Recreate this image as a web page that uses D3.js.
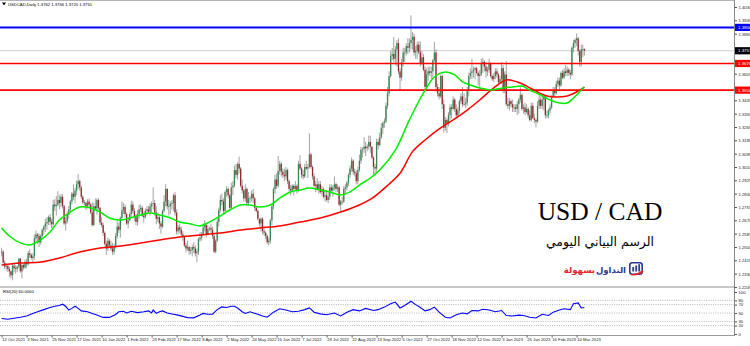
<!DOCTYPE html>
<html><head><meta charset="utf-8">
<script src="https://cdn.jsdelivr.net/npm/d3@7"></script>
<style>html,body{margin:0;padding:0;background:#fff;overflow:hidden}svg{display:block}</style>
</head><body><svg id="c" width="750" height="346"></svg>
<script>
// ---------- DATA ----------
const symbolTitle = "USDCAD,Daily";
const headerValues = ["1.3762", "1.3766", "1.3720", "1.3751"];
const dateLabels = ["12 Oct 2021","3 Nov 2021","25 Nov 2021","17 Dec 2021","10 Jan 2022","1 Feb 2022","23 Feb 2022","17 Mar 2022","8 Apr 2022","2 May 2022","24 May 2022","15 Jun 2022","7 Jul 2022","29 Jul 2022","22 Aug 2022","13 Sep 2022","5 Oct 2022","27 Oct 2022","18 Nov 2022","12 Dec 2022","3 Jan 2023","25 Jan 2023","16 Feb 2023","10 Mar 2023"];
const priceTicks = [1.4030,1.3945,1.3860,1.3775,1.3690,1.3605,1.3520,1.3435,1.3350,1.3265,1.3180,1.3095,1.3010,1.2925,1.2840,1.2755,1.2670,1.2585,1.2500,1.2415,1.2330,1.2245];
const rsiTicks = [100,80,70,50,30,20,0];
const rsiLevels = [80,70,50,30,20];
const blueLevel = 1.3900;
const redLevels = [1.3670, 1.3500];
const lastPrice = 1.3751;

// daily candles, 12 Oct 2021 .. 17 Mar 2023
const opens = [
1.2465,1.2470,1.2400,1.2375,1.2380,1.2360,1.2345,1.2320,1.2380,1.2365,1.2360,1.2375,1.2425,1.2345,
1.2385,1.2370,1.2405,1.2390,1.2460,1.2450,1.2430,1.2440,1.2555,1.2580,1.2570,1.2530,1.2570,1.2610,1.2630,1.2650,1.2660,1.2690,1.2660,1.2645,1.2770,1.2760,
1.2770,1.2800,1.2780,1.2820,1.2760,1.2650,1.2665,1.2705,1.2740,1.2790,1.2840,1.2820,1.2860,1.2900,1.2920,1.2880,1.2820,1.2785,1.2780,1.2760,1.2790,1.2770,1.2720,
1.2640,1.2760,1.2745,1.2800,1.2750,1.2655,1.2640,1.2590,1.2520,1.2490,1.2540,1.2510,1.2490,1.2470,1.2505,1.2570,1.2630,1.2610,1.2685,1.2735,1.2755,
1.2710,1.2650,1.2670,1.2710,1.2770,1.2730,1.2690,1.2660,1.2710,1.2740,1.2750,1.2700,1.2690,1.2730,1.2740,1.2725,1.2760,1.2775,1.2780,1.2720,
1.2680,1.2690,1.2650,1.2630,1.2730,1.2790,1.2870,1.2760,1.2760,1.2775,1.2780,1.2830,1.2720,1.2600,1.2625,1.2610,1.2580,1.2565,1.2510,1.2490,1.2500,1.2475,1.2480,
1.2500,1.2490,1.2460,1.2470,1.2550,1.2560,1.2580,1.2625,1.2640,1.2580,1.2615,1.2620,1.2610,1.2570,1.2470,1.2540,1.2660,1.2735,1.2800,1.2790,1.2730,
1.2850,1.2870,1.2830,1.2750,1.2880,1.2890,1.2990,1.2960,1.3030,1.3000,1.2890,1.2860,1.2810,1.2870,1.2780,1.2810,1.2810,1.2840,1.2810,1.2750,1.2730,1.2680,
1.2650,1.2680,1.2600,1.2590,1.2570,1.2530,1.2540,1.2670,1.2760,1.2870,1.2930,1.2890,1.2985,1.3030,1.2980,1.2960,1.2950,1.2990,1.2920,1.2870,1.2860,1.2890,
1.2870,1.2890,1.2860,1.3030,1.3000,1.2960,1.2950,1.3010,1.3000,1.3010,1.3090,1.3010,1.2950,1.2890,1.2900,1.2870,1.2900,1.2850,1.2870,1.2820,1.2830,
1.2800,1.2820,1.2880,1.2860,1.2880,1.2900,1.2870,1.2880,1.2770,1.2790,1.2790,1.2870,1.2880,1.2910,1.2960,1.3000,1.3050,1.2980,1.2970,1.2920,1.2990,1.3050,1.3120,
1.3125,1.3140,1.3130,1.3140,1.3170,1.3140,1.3070,1.3010,1.3000,1.3170,1.3150,1.3200,1.3260,1.3290,1.3300,1.3400,1.3480,1.3590,1.3720,1.3730,1.3700,1.3760,
1.3800,1.3620,1.3580,1.3680,1.3740,1.3740,1.3780,1.3770,1.3800,1.3820,1.3840,1.3740,1.3750,1.3790,1.3740,1.3670,1.3710,1.3630,1.3520,1.3600,1.3620,
1.3610,1.3620,1.3690,1.3740,1.3520,1.3480,1.3460,1.3590,1.3410,1.3260,1.3310,1.3290,1.3340,1.3390,1.3380,1.3440,1.3380,1.3340,1.3370,1.3430,1.3460,1.3410,
1.3410,1.3420,1.3500,1.3590,1.3610,1.3620,1.3630,1.3640,1.3610,1.3590,1.3600,1.3670,1.3680,1.3650,1.3620,1.3630,1.3670,1.3590,1.3570,1.3590,1.3620,1.3600,
1.3550,1.3570,1.3640,1.3500,1.3600,1.3410,1.3400,1.3430,1.3410,1.3390,1.3390,1.3380,1.3410,1.3440,1.3470,1.3380,1.3390,1.3360,1.3380,1.3340,1.3310,1.3400,
1.3320,1.3310,1.3300,1.3400,1.3440,1.3400,1.3440,1.3460,1.3340,1.3340,1.3370,1.3390,1.3460,1.3500,1.3480,1.3540,1.3560,1.3530,1.3610,1.3580,
1.3620,1.3610,1.3630,1.3610,1.3600,1.3770,1.3800,1.3820,1.3830,1.3750,1.3680,1.3760,1.3762];
const highs = [
1.2495,1.2480,1.2415,1.2395,1.2390,1.2375,1.2350,1.2395,1.2400,1.2385,1.2380,1.2430,1.2430,1.2395,
1.2395,1.2420,1.2425,1.2475,1.2485,1.2460,1.2460,1.2580,1.2605,1.2590,1.2585,1.2580,1.2620,1.2640,1.2680,1.2690,1.2700,1.2710,1.2680,1.2800,1.2805,1.2825,
1.2855,1.2830,1.2840,1.2835,1.2770,1.2690,1.2725,1.2760,1.2800,1.2850,1.2900,1.2875,1.2925,1.2964,1.2930,1.2890,1.2830,1.2800,1.2790,1.2805,1.2810,1.2780,1.2785,
1.2780,1.2810,1.2810,1.2810,1.2755,1.2690,1.2655,1.2600,1.2540,1.2560,1.2550,1.2540,1.2525,1.2520,1.2590,1.2680,1.2655,1.2695,1.2790,1.2780,1.2770,
1.2720,1.2690,1.2720,1.2795,1.2790,1.2750,1.2710,1.2735,1.2770,1.2770,1.2760,1.2725,1.2745,1.2760,1.2760,1.2780,1.2790,1.2880,1.2800,1.2760,
1.2720,1.2700,1.2665,1.2740,1.2830,1.2900,1.2875,1.2800,1.2790,1.2800,1.2840,1.2850,1.2740,1.2640,1.2650,1.2630,1.2600,1.2575,1.2525,1.2540,1.2510,1.2500,1.2515,
1.2530,1.2510,1.2490,1.2560,1.2595,1.2595,1.2650,1.2670,1.2650,1.2640,1.2630,1.2650,1.2630,1.2590,1.2550,1.2680,1.2750,1.2830,1.2840,1.2810,1.2860,
1.2890,1.2880,1.2840,1.2910,1.2920,1.3020,1.3030,1.3040,1.3076,1.3010,1.2930,1.2870,1.2900,1.2880,1.2850,1.2825,1.2860,1.2870,1.2820,1.2760,1.2740,1.2680,
1.2690,1.2690,1.2620,1.2600,1.2580,1.2560,1.2680,1.2780,1.2880,1.2960,1.2970,1.3080,1.3050,1.3040,1.3000,1.3000,1.3010,1.3000,1.2930,1.2895,1.2900,1.2900,
1.2920,1.2900,1.3050,1.3085,1.3010,1.2990,1.3030,1.3050,1.3030,1.3224,1.3100,1.3020,1.2970,1.2920,1.2940,1.2920,1.2920,1.2890,1.2880,1.2860,1.2860,
1.2850,1.2900,1.2900,1.2895,1.2950,1.2910,1.2900,1.2890,1.2800,1.2820,1.2890,1.2900,1.2920,1.2970,1.3020,1.3070,1.3060,1.3000,1.2990,1.3010,1.3090,1.3140,1.3135,
1.3200,1.3170,1.3155,1.3210,1.3210,1.3140,1.3080,1.3030,1.3190,1.3190,1.3230,1.3290,1.3300,1.3320,1.3420,1.3520,1.3620,1.3750,1.3770,1.3838,1.3780,1.3820,
1.3830,1.3640,1.3700,1.3770,1.3770,1.3800,1.3830,1.3830,1.3977,1.3870,1.3860,1.3780,1.3810,1.3810,1.3810,1.3750,1.3730,1.3650,1.3640,1.3650,1.3650,
1.3650,1.3700,1.3808,1.3760,1.3540,1.3520,1.3600,1.3600,1.3440,1.3330,1.3320,1.3360,1.3410,1.3410,1.3460,1.3450,1.3410,1.3390,1.3440,1.3480,1.3520,1.3480,
1.3450,1.3520,1.3610,1.3640,1.3700,1.3650,1.3650,1.3650,1.3620,1.3630,1.3700,1.3705,1.3690,1.3680,1.3650,1.3700,1.3680,1.3600,1.3610,1.3640,1.3640,1.3610,
1.3590,1.3680,1.3660,1.3620,1.3685,1.3450,1.3450,1.3440,1.3440,1.3410,1.3410,1.3430,1.3450,1.3520,1.3480,1.3410,1.3420,1.3410,1.3390,1.3370,1.3420,1.3420,
1.3350,1.3320,1.3430,1.3470,1.3460,1.3470,1.3470,1.3470,1.3370,1.3380,1.3410,1.3470,1.3520,1.3520,1.3560,1.3580,1.3580,1.3620,1.3630,1.3640,
1.3660,1.3650,1.3640,1.3630,1.3780,1.3820,1.3830,1.3862,1.3840,1.3760,1.3790,1.3790,1.3766];
const lows = [
1.2440,1.2395,1.2360,1.2350,1.2340,1.2310,1.2300,1.2288,1.2340,1.2330,1.2340,1.2365,1.2335,1.2300,
1.2355,1.2360,1.2365,1.2380,1.2430,1.2420,1.2405,1.2420,1.2525,1.2520,1.2500,1.2515,1.2560,1.2580,1.2595,1.2610,1.2640,1.2640,1.2620,1.2610,1.2730,1.2700,
1.2760,1.2740,1.2755,1.2745,1.2640,1.2605,1.2650,1.2680,1.2730,1.2770,1.2800,1.2780,1.2830,1.2870,1.2860,1.2805,1.2770,1.2765,1.2735,1.2745,1.2755,1.2710,1.2630,
1.2635,1.2735,1.2705,1.2735,1.2640,1.2625,1.2570,1.2510,1.2450,1.2475,1.2500,1.2475,1.2450,1.2451,1.2490,1.2555,1.2590,1.2560,1.2680,1.2710,1.2690,
1.2640,1.2620,1.2665,1.2690,1.2715,1.2665,1.2640,1.2635,1.2680,1.2720,1.2690,1.2655,1.2680,1.2700,1.2715,1.2700,1.2720,1.2740,1.2700,1.2645,
1.2660,1.2615,1.2585,1.2620,1.2720,1.2760,1.2740,1.2700,1.2710,1.2740,1.2730,1.2700,1.2580,1.2580,1.2590,1.2565,1.2540,1.2500,1.2465,1.2475,1.2450,1.2455,1.2440,
1.2460,1.2440,1.2403,1.2450,1.2535,1.2540,1.2575,1.2600,1.2560,1.2575,1.2600,1.2590,1.2550,1.2460,1.2460,1.2530,1.2630,1.2720,1.2765,1.2710,1.2710,
1.2820,1.2810,1.2740,1.2740,1.2830,1.2880,1.2940,1.2930,1.2970,1.2880,1.2840,1.2790,1.2790,1.2760,1.2765,1.2780,1.2790,1.2780,1.2730,1.2720,1.2670,1.2630,
1.2600,1.2580,1.2570,1.2550,1.2518,1.2510,1.2520,1.2640,1.2740,1.2840,1.2870,1.2880,1.2960,1.2950,1.2940,1.2920,1.2930,1.2900,1.2850,1.2830,1.2850,1.2830,
1.2860,1.2840,1.2850,1.2990,1.2940,1.2930,1.2940,1.2990,1.2940,1.3000,1.3000,1.2930,1.2880,1.2850,1.2860,1.2840,1.2840,1.2830,1.2810,1.2790,1.2790,
1.2780,1.2800,1.2840,1.2820,1.2860,1.2850,1.2850,1.2760,1.2728,1.2770,1.2780,1.2840,1.2860,1.2890,1.2940,1.2980,1.2960,1.2950,1.2900,1.2900,1.2980,1.3030,1.3070,
1.3100,1.3080,1.3110,1.3120,1.3100,1.3060,1.2960,1.2950,1.2980,1.3120,1.3140,1.3190,1.3220,1.3260,1.3290,1.3380,1.3460,1.3580,1.3690,1.3680,1.3660,1.3650,
1.3600,1.3500,1.3560,1.3650,1.3680,1.3720,1.3730,1.3740,1.3760,1.3760,1.3720,1.3700,1.3700,1.3730,1.3650,1.3660,1.3620,1.3500,1.3500,1.3560,1.3590,
1.3570,1.3580,1.3680,1.3490,1.3460,1.3440,1.3450,1.3380,1.3230,1.3240,1.3226,1.3270,1.3310,1.3320,1.3370,1.3360,1.3320,1.3320,1.3350,1.3410,1.3390,1.3400,
1.3385,1.3400,1.3460,1.3570,1.3570,1.3580,1.3570,1.3600,1.3530,1.3510,1.3590,1.3610,1.3620,1.3580,1.3590,1.3610,1.3580,1.3560,1.3550,1.3570,1.3580,1.3530,
1.3540,1.3540,1.3480,1.3480,1.3400,1.3380,1.3370,1.3390,1.3360,1.3360,1.3360,1.3340,1.3350,1.3420,1.3370,1.3350,1.3340,1.3350,1.3320,1.3300,1.3300,1.3320,
1.3290,1.3262,1.3290,1.3380,1.3380,1.3380,1.3370,1.3320,1.3320,1.3320,1.3350,1.3380,1.3450,1.3460,1.3470,1.3520,1.3500,1.3520,1.3570,1.3570,
1.3590,1.3590,1.3590,1.3570,1.3590,1.3740,1.3770,1.3780,1.3720,1.3650,1.3650,1.3710,1.3720];
const closes = [
1.2470,1.2400,1.2375,1.2380,1.2360,1.2345,1.2320,1.2380,1.2365,1.2360,1.2375,1.2425,1.2345,1.2385,
1.2370,1.2405,1.2390,1.2460,1.2450,1.2430,1.2440,1.2555,1.2580,1.2570,1.2530,1.2570,1.2610,1.2630,1.2650,1.2660,1.2690,1.2660,1.2645,1.2770,1.2760,1.2770,
1.2800,1.2780,1.2820,1.2760,1.2650,1.2665,1.2705,1.2740,1.2790,1.2840,1.2820,1.2860,1.2900,1.2920,1.2880,1.2820,1.2785,1.2780,1.2760,1.2790,1.2770,1.2720,1.2640,
1.2760,1.2745,1.2800,1.2750,1.2655,1.2640,1.2590,1.2520,1.2490,1.2540,1.2510,1.2490,1.2470,1.2505,1.2570,1.2630,1.2610,1.2685,1.2735,1.2755,1.2710,
1.2650,1.2670,1.2710,1.2770,1.2730,1.2690,1.2660,1.2710,1.2740,1.2750,1.2700,1.2690,1.2730,1.2740,1.2725,1.2760,1.2775,1.2780,1.2720,1.2680,
1.2690,1.2650,1.2630,1.2730,1.2790,1.2870,1.2760,1.2760,1.2775,1.2780,1.2830,1.2720,1.2600,1.2625,1.2610,1.2580,1.2565,1.2510,1.2490,1.2500,1.2475,1.2480,1.2500,
1.2490,1.2460,1.2470,1.2550,1.2560,1.2580,1.2625,1.2640,1.2580,1.2615,1.2620,1.2610,1.2570,1.2470,1.2540,1.2660,1.2735,1.2800,1.2790,1.2730,1.2850,
1.2870,1.2830,1.2750,1.2880,1.2890,1.2990,1.2960,1.3030,1.3000,1.2890,1.2860,1.2810,1.2870,1.2780,1.2810,1.2810,1.2840,1.2810,1.2750,1.2730,1.2680,1.2650,
1.2680,1.2600,1.2590,1.2570,1.2530,1.2540,1.2670,1.2760,1.2870,1.2930,1.2890,1.2985,1.3030,1.2980,1.2960,1.2950,1.2990,1.2920,1.2870,1.2860,1.2890,1.2870,
1.2890,1.2860,1.3030,1.3000,1.2960,1.2950,1.3010,1.3000,1.3010,1.3090,1.3010,1.2950,1.2890,1.2900,1.2870,1.2900,1.2850,1.2870,1.2820,1.2830,1.2800,
1.2820,1.2880,1.2860,1.2880,1.2900,1.2870,1.2880,1.2770,1.2790,1.2790,1.2870,1.2880,1.2910,1.2960,1.3000,1.3050,1.2980,1.2970,1.2920,1.2990,1.3050,1.3120,1.3125,
1.3140,1.3130,1.3140,1.3170,1.3140,1.3070,1.3010,1.3000,1.3170,1.3150,1.3200,1.3260,1.3290,1.3300,1.3400,1.3480,1.3590,1.3720,1.3730,1.3700,1.3760,1.3800,
1.3620,1.3580,1.3680,1.3740,1.3740,1.3780,1.3770,1.3800,1.3820,1.3840,1.3740,1.3750,1.3790,1.3740,1.3670,1.3710,1.3630,1.3520,1.3600,1.3620,1.3610,
1.3620,1.3690,1.3740,1.3520,1.3480,1.3460,1.3590,1.3410,1.3260,1.3310,1.3290,1.3340,1.3390,1.3380,1.3440,1.3380,1.3340,1.3370,1.3430,1.3460,1.3410,1.3410,
1.3420,1.3500,1.3590,1.3610,1.3620,1.3630,1.3640,1.3610,1.3590,1.3600,1.3670,1.3680,1.3650,1.3620,1.3630,1.3670,1.3590,1.3570,1.3590,1.3620,1.3600,1.3550,
1.3570,1.3640,1.3500,1.3600,1.3410,1.3400,1.3430,1.3410,1.3390,1.3390,1.3380,1.3410,1.3440,1.3470,1.3380,1.3390,1.3360,1.3380,1.3340,1.3310,1.3400,1.3320,
1.3310,1.3300,1.3400,1.3440,1.3400,1.3440,1.3460,1.3340,1.3340,1.3370,1.3390,1.3460,1.3500,1.3480,1.3540,1.3560,1.3530,1.3610,1.3580,1.3620,
1.3610,1.3630,1.3610,1.3600,1.3770,1.3800,1.3820,1.3830,1.3750,1.3680,1.3760,1.3762,1.3751];

// moving averages (bar index, price)
const greenBars = [0,5,12,18,25,31,37,44,50,57,63,69,76,82,89,95,101,108,114,121,127,133,140,146,153,159,165,172,178,185,191,197,204,210,217,223,229,236,242,252,261,270,277,284,290,295,300,306,313,321,327,333,338,345,351,357,362,366,373];
const greenValues = [1.2621,1.2570,1.2526,1.2513,1.2545,1.2596,1.2672,1.2723,1.2755,1.2749,1.2723,1.2685,1.2672,1.2685,1.2704,1.2717,1.2704,1.2685,1.2659,1.2647,1.2634,1.2659,1.2698,1.2736,1.2768,1.2768,1.2755,1.2768,1.2812,1.2851,1.2863,1.2876,1.2863,1.2851,1.2832,1.2851,1.2895,1.2940,1.2991,1.3118,1.3310,1.3482,1.3584,1.3616,1.3597,1.3552,1.3533,1.3514,1.3501,1.3514,1.3520,1.3526,1.3501,1.3469,1.3437,1.3418,1.3418,1.3450,1.3520];
const redBars = [0,12,25,37,50,63,76,89,101,114,127,140,153,165,178,191,204,217,229,237,245,255,263,271,281,289,298,306,315,323,330,336,343,349,355,362,368,373];
const redValues = [1.2385,1.2398,1.2404,1.2430,1.2468,1.2494,1.2506,1.2526,1.2545,1.2564,1.2577,1.2589,1.2608,1.2621,1.2634,1.2659,1.2685,1.2723,1.2768,1.2810,1.2875,1.2970,1.3108,1.3182,1.3259,1.3310,1.3373,1.3437,1.3514,1.3565,1.3552,1.3526,1.3488,1.3463,1.3456,1.3463,1.3488,1.3520];

// RSI(20)
const rsiBars = [0,4,7,12,16,20,23,27,31,34,37,39,41,43,45,47,49,51,55,58,61,65,69,73,75,78,80,83,87,91,94,96,97,99,101,103,106,110,113,116,119,123,127,129,132,135,138,141,144,147,149,151,154,156,159,163,167,170,174,178,182,186,190,194,197,200,204,208,213,217,221,225,229,233,238,241,245,249,252,255,258,262,265,268,271,274,277,280,284,287,291,295,298,301,305,308,312,316,320,323,327,331,334,338,342,346,350,353,357,360,364,366,369,371,373];
const rsiValues = [37,35,37,40,43,49,53,58,63,66,68,71,66,57,61,66,61,55,53,49,45,39.5,39.5,46.5,53,54,50,54,51,53,55,50,57,49,53,55,50,47,45,42,39,38.5,45,49,47,47,58,64.5,63,66,66,62,53,49,53,48,43,40,52,60,57,53,54,58,62,52,48,46,50,43,52,58,55,61,56,58,64,72,76,62,68,78,70,63,55,58,64,52,40,38,46,50,48,56,55,59,57,53,56,44,43,45,44,40,38,47,44,52,57,60,58,72,74,62,63];
const rsiTitle = "RSI(20) 60.0000";
const chartTitle = "USD / CAD";
const chartSubtitle = "الرسم البياني  اليومي";
const brandWords = ["التداول", "بسهولة"];

// ---------- DRAW ----------
const svg = d3.select('#c');
const W = 750, AX = 734;
const MAIN_TOP = 0, MAIN_BOT = 286, RSI_TOP = 288, RSI_BOT = 335;
const nBars = closes.length;
const x = d3.scaleLinear().domain([0, nBars - 1]).range([1.6, 1.6 + (nBars - 1) * 1.5625]);
const y = d3.scaleLinear().domain([1.2245, 1.4030]).range([287, 7]);
const yr = d3.scaleLinear().domain([0, 100]).range([334, 292]);
const FONT = "'Liberation Sans', Arial, sans-serif";

svg.append('rect').attr('width', 750).attr('height', 346).attr('fill', '#fff');

const defs = svg.append('defs');
defs.append('clipPath').attr('id', 'mainClip').append('rect')
  .attr('x', 0).attr('y', MAIN_TOP).attr('width', AX).attr('height', MAIN_BOT - MAIN_TOP);
defs.append('clipPath').attr('id', 'rsiClip').append('rect')
  .attr('x', 0).attr('y', RSI_TOP).attr('width', AX).attr('height', RSI_BOT - RSI_TOP);

// frames
svg.append('line').attr('x1', 0).attr('x2', AX).attr('y1', 0.5).attr('y2', 0.5).attr('stroke', '#b4b4b4').attr('stroke-width', 1);
svg.append('rect').attr('x', 0).attr('y', MAIN_BOT).attr('width', AX).attr('height', RSI_TOP - MAIN_BOT).attr('fill', '#c8c8c8');
svg.append('line').attr('x1', 0).attr('x2', AX + 0.5).attr('y1', RSI_BOT + 0.5).attr('y2', RSI_BOT + 0.5).attr('stroke', '#9a9a9a').attr('stroke-width', 1);
svg.append('line').attr('x1', AX + 0.5).attr('x2', AX + 0.5).attr('y1', 0).attr('y2', RSI_BOT + 1).attr('stroke', '#8a8a8a').attr('stroke-width', 1);

const main = svg.append('g').attr('clip-path', 'url(#mainClip)');

// current price line
main.append('line').attr('x1', 0).attr('x2', AX).attr('y1', y(lastPrice)).attr('y2', y(lastPrice))
  .attr('stroke', '#cfcfcf').attr('stroke-width', 1);

// candles
const idx = d3.range(nBars);
main.append('g').selectAll('line').data(idx).join('line')
  .attr('x1', i => x(i)).attr('x2', i => x(i))
  .attr('y1', i => y(highs[i])).attr('y2', i => y(lows[i]))
  .attr('stroke', '#8c8c8c').attr('stroke-width', 0.8);
main.append('g').selectAll('rect').data(idx).join('rect')
  .attr('x', i => x(i) - 0.65).attr('width', 1.3)
  .attr('y', i => y(Math.max(opens[i], closes[i])))
  .attr('height', i => Math.max(0.8, Math.abs(y(opens[i]) - y(closes[i]))))
  .attr('fill', i => closes[i] >= opens[i] ? '#3a8550' : '#8e2a2a');

// horizontal levels
main.append('line').attr('x1', 0).attr('x2', AX).attr('y1', y(blueLevel)).attr('y2', y(blueLevel))
  .attr('stroke', '#0000ff').attr('stroke-width', 2);
main.selectAll('line.red').data(redLevels).join('line').attr('class', 'red')
  .attr('x1', 0).attr('x2', AX).attr('y1', d => y(d)).attr('y2', d => y(d))
  .attr('stroke', '#ff0000').attr('stroke-width', 1.6);

// moving averages
const maLine = d3.line().x(d => x(d[0])).y(d => y(d[1])).curve(d3.curveCatmullRom.alpha(0.5));
main.append('path').datum(d3.zip(redBars, redValues)).attr('d', maLine)
  .attr('fill', 'none').attr('stroke', '#ff0000').attr('stroke-width', 1.5);
main.append('path').datum(d3.zip(greenBars, greenValues)).attr('d', maLine)
  .attr('fill', 'none').attr('stroke', '#00ee00').attr('stroke-width', 1.5);

// header
svg.append('path').attr('d', 'M2,2.6 L6,2.6 L4,5.4 Z').attr('fill', '#000');
svg.append('text').attr('x', 8).attr('y', 5.6).attr('font-family', FONT).attr('font-size', 4.2).attr('fill', '#000')
  .text(symbolTitle + '  ' + headerValues.join(' '));

// right price axis (labels hidden behind the level boxes are left out, as in the reference)
const boxLevels = [blueLevel, lastPrice, ...redLevels];
const visibleTicks = priceTicks.filter(t => boxLevels.every(b => Math.abs(y(t) - y(b)) > 4.5));
const pAxis = d3.axisRight(y).tickValues(visibleTicks).tickFormat(d3.format('.4f')).tickSize(2.5).tickPadding(1.5);
const pg = svg.append('g').attr('transform', `translate(${AX + 0.5},0)`).call(pAxis);
pg.select('.domain').remove();
pg.selectAll('line').attr('stroke', '#555');
pg.selectAll('text').attr('font-family', FONT).attr('font-size', 4.2).attr('fill', '#222');

// level boxes on the axis
function axisBox(val, bg, fg) {
  const g = svg.append('g');
  g.append('rect').attr('x', AX + 1).attr('y', y(val) - 3.6).attr('width', W - AX - 1).attr('height', 7.2).attr('fill', bg);
  g.append('text').attr('x', AX + 4).attr('y', y(val) + 1.6).attr('font-family', FONT).attr('font-size', 4.4)
    .attr('fill', fg).text(d3.format('.4f')(val));
}
axisBox(blueLevel, '#0000ff', '#fff');
axisBox(lastPrice, '#000', '#fff');
redLevels.forEach(v => axisBox(v, '#ff0000', '#fff'));

// big titles
svg.append('text').attr('x', 600).attr('y', 220).attr('text-anchor', 'middle')
  .attr('font-family', "'Liberation Serif', 'Times New Roman', serif").attr('font-size', 25.5).attr('fill', '#000')
  .text(chartTitle);
svg.append('text').attr('x', 600).attr('y', 246).attr('text-anchor', 'middle')
  .attr('font-family', "'DejaVu Sans', sans-serif").attr('font-size', 12.5).attr('fill', '#000')
  .text(chartSubtitle);

// brand logo
svg.append('text').attr('x', 626).attr('y', 273).attr('text-anchor', 'end')
  .attr('font-family', "'DejaVu Sans', sans-serif").attr('font-weight', 'bold').attr('font-size', 8.5).attr('fill', '#2b3990')
  .text(brandWords[0]);
svg.append('text').attr('x', 595).attr('y', 273).attr('text-anchor', 'end')
  .attr('font-family', "'DejaVu Sans', sans-serif").attr('font-weight', 'bold').attr('font-size', 8.5).attr('fill', '#e52528')
  .text(brandWords[1]);
const logo = svg.append('g').attr('transform', 'translate(629,262)');
logo.append('rect').attr('x', 0.8).attr('y', 0.8).attr('width', 12.4).attr('height', 11.4).attr('rx', 2.5)
  .attr('fill', 'none').attr('stroke', '#2b3990').attr('stroke-width', 1.6);
[[3.3, 5], [6.3, 3.5], [9.3, 2.2]].forEach(([bx, by]) =>
  logo.append('rect').attr('x', bx).attr('y', by).attr('width', 1.8).attr('height', 9.5 - by).attr('fill', '#2b3990'));
logo.append('path').attr('d', 'M2,12.5 Q8,13.5 14,9').attr('fill', 'none').attr('stroke', '#e52528').attr('stroke-width', 1.6);

// ---------- RSI panel ----------
const rsi = svg.append('g').attr('clip-path', 'url(#rsiClip)');
rsi.selectAll('line.lvl').data(rsiLevels).join('line').attr('class', 'lvl')
  .attr('x1', 0).attr('x2', AX).attr('y1', d => yr(d)).attr('y2', d => yr(d))
  .attr('stroke', '#9a9a9a').attr('stroke-width', 0.7).attr('stroke-dasharray', '1,1.3');
rsi.append('path').datum(d3.zip(rsiBars, rsiValues))
  .attr('d', d3.line().x(d => x(d[0])).y(d => yr(d[1])))
  .attr('fill', 'none').attr('stroke', '#0000ff').attr('stroke-width', 1.1);
svg.append('text').attr('x', 3).attr('y', 293).attr('font-family', FONT).attr('font-size', 4.2).attr('fill', '#000')
  .text(rsiTitle);
const rAxis = d3.axisRight(yr).tickValues(rsiTicks).tickFormat(d3.format('d')).tickSize(2.5).tickPadding(1.5);
const rg = svg.append('g').attr('transform', `translate(${AX + 0.5},0)`).call(rAxis);
rg.select('.domain').remove();
rg.selectAll('line').attr('stroke', '#555');
rg.selectAll('text').attr('font-family', FONT).attr('font-size', 4.2).attr('fill', '#222');

// ---------- date axis ----------
const tickBars = dateLabels.map((d, i) => i * 16);
const xAxis = d3.axisBottom(x).tickValues(tickBars).tickFormat((d, i) => dateLabels[i]).tickSize(2).tickPadding(1);
const xg = svg.append('g').attr('transform', `translate(0,${RSI_BOT + 0.5})`).call(xAxis);
xg.select('.domain').remove();
xg.selectAll('line').attr('stroke', '#555');
xg.selectAll('text').attr('font-family', FONT).attr('font-size', 4.2).attr('fill', '#222')
  .attr('text-anchor', 'start').attr('dx', 0.2);
</script>
</body></html>
